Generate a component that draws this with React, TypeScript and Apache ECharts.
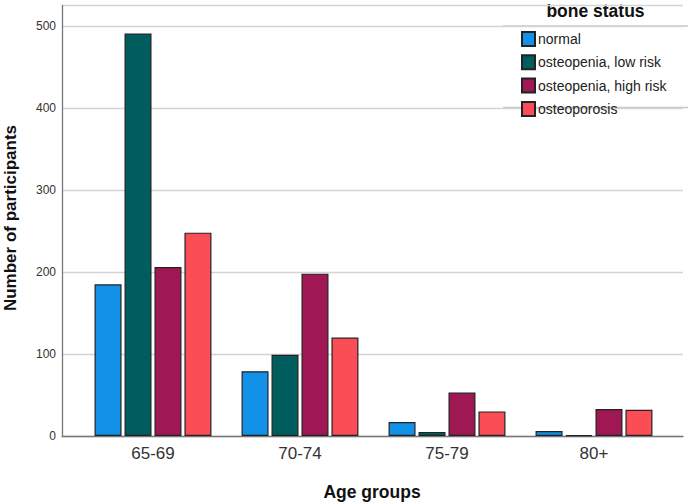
import React, { useEffect, useRef } from "react";
import * as echarts from "echarts";

const categories = ["65-69", "70-74", "75-79", "80+"];
const seriesNames = ["normal", "osteopenia, low risk", "osteopenia, high risk", "osteoporosis"];
const normal = [185, 79, 17, 6];
const lowRisk = [491, 99, 5, 1];
const highRisk = [206, 198, 53, 33];
const osteoporosis = [248, 120, 30, 32];
const colors = ["#1192e8", "#005d5d", "#9f1853", "#fa4d56"];
const yTicks = [0, 100, 200, 300, 400, 500];

const FONT = "'Liberation Sans', Arial, sans-serif";

export default function App() {
  const ref = useRef<HTMLDivElement>(null);
  useEffect(() => {
    if (!ref.current) return;
    const chart = echarts.init(ref.current, null, { renderer: "svg" });
    const values = [normal, lowRisk, highRisk, osteoporosis];
    const yMax = 525;
    chart.setOption({
      animation: false,
      backgroundColor: "#ffffff",
      textStyle: { fontFamily: FONT },
      grid: [
        { left: 62, right: 5, top: 5.5, bottom: 67, containLabel: false },
        { left: 79.5, right: 20.5, top: 5.5, bottom: 67, containLabel: false },
      ],
      xAxis: [
        {
          type: "category",
          gridIndex: 0,
          data: [""],
          axisLine: { show: true, lineStyle: { color: "#777", width: 1.3 } },
          axisTick: { show: false },
          axisLabel: { show: false },
          splitLine: { show: false },
        },
        {
          type: "category",
          gridIndex: 1,
          data: categories,
          axisLine: { show: false },
          axisTick: { show: false },
          axisLabel: { show: true, color: "#333", fontSize: 17, margin: 9, fontFamily: FONT },
        },
      ],
      yAxis: [
        {
          type: "value",
          gridIndex: 0,
          min: 0,
          max: yMax,
          interval: 100,
          axisLine: { show: true, lineStyle: { color: "#777", width: 1.3 } },
          axisTick: { show: false },
          axisLabel: {
            color: "#333",
            fontSize: 12,
            margin: 6,
            fontFamily: FONT,
            formatter: (v: number) => (yTicks.includes(v) ? String(v) : ""),
          },
          splitLine: { show: true, lineStyle: { color: "#d4d4d4", width: 1.3 } },
        },
        {
          type: "value",
          gridIndex: 1,
          min: 0,
          max: yMax,
          show: false,
          splitLine: { show: false },
        },
      ],
      legend: {
        orient: "vertical",
        left: 521,
        top: 31,
        itemWidth: 13,
        itemHeight: 14,
        itemGap: 7.3,
        icon: "rect",
        data: seriesNames,
        textStyle: { color: "#222", fontSize: 14, fontFamily: FONT, padding: [0, 0, 0, -2] },
        padding: 0,
      },
      graphic: [
        {
          type: "text",
          x: 595.5,
          y: 11,
          style: {
            text: "bone status",
            fill: "#111",
            font: `bold 17.5px ${FONT}`,
            textAlign: "center",
            textVerticalAlign: "middle",
          },
        },
        {
          type: "line",
          shape: { x1: 503, y1: 26, x2: 688, y2: 26 },
          style: { stroke: "#c8c8c8", lineWidth: 1.3 },
        },
        {
          type: "line",
          shape: { x1: 503, y1: 107.5, x2: 688, y2: 107.5 },
          style: { stroke: "#c8c8c8", lineWidth: 1.3 },
        },
        {
          type: "text",
          x: 372,
          y: 492,
          style: {
            text: "Age groups",
            fill: "#111",
            font: `bold 17.5px ${FONT}`,
            textAlign: "center",
            textVerticalAlign: "middle",
          },
        },
        {
          type: "text",
          x: 10.5,
          y: 218,
          rotation: Math.PI / 2,
          style: {
            text: "Number of participants",
            fill: "#111",
            font: `bold 17px ${FONT}`,
            textAlign: "center",
            textVerticalAlign: "middle",
          },
        },
      ],
      series: seriesNames.map((name, i) => ({
        name,
        type: "bar",
        xAxisIndex: 1,
        yAxisIndex: 1,
        data: values[i],
        barWidth: 27,
        barGap: "11%",
        itemStyle: { color: colors[i], borderColor: "#222", borderWidth: 1.2 },
      })),
    });
    return () => chart.dispose();
  }, []);
  return <div ref={ref} style={{ width: 688, height: 503, position: "absolute", left: 0, top: 0 }} />;
}
